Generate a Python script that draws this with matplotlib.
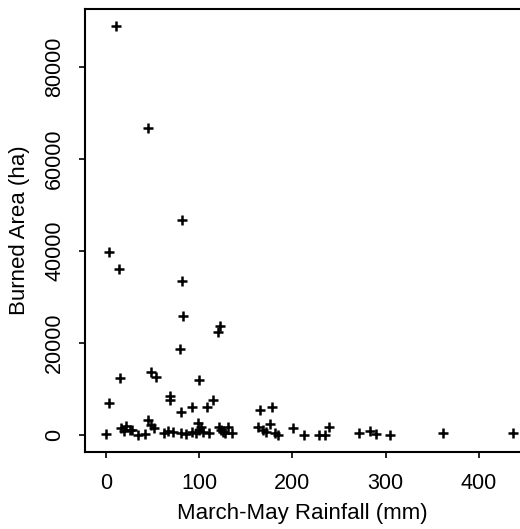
import matplotlib
matplotlib.use("Agg")
import matplotlib.pyplot as plt

plt.rcParams['font.family'] = ['Liberation Sans', 'DejaVu Sans']

rain = [11.5, 45.3, 82.2, 3.6, 14, 82, 83, 122, 120, 80, 15, 49, 53.6, 100,
        3.2, 68.6, 68.6, 81, 92, 108, 114.5, 165, 178.6,
        0, 16.8, 22, 25.7, 20, 28, 34.6, 41.8, 45.3, 49, 51.8,
        62, 67, 72, 81, 86, 92, 99, 102, 100, 104, 97, 111,
        121, 124, 128, 126, 131, 135, 163, 169, 172, 176, 181, 185,
        201, 213, 229, 235, 239, 271.5, 283.6, 290, 305, 361, 437]
area = [88900, 66600, 46700, 39650, 36000, 33400, 25800, 23700, 22400, 18600,
        12400, 13700, 12500, 11900, 6800, 8400, 7500, 5000, 6000, 6100, 7500,
        5300, 6100,
        100, 1400, 2000, 1000, 800, 1100, 0, 100, 3200, 2100, 1400,
        400, 900, 700, 300, 100, 500, 2500, 1700, 1000, 650, 300, 300,
        1700, 1000, 300, 600, 1700, 300, 1700, 1000, 650, 2300, 300, 0,
        1400, 0, 0, 0, 1700, 300, 800, 100, 0, 300, 300]

xticks = [0, 100, 200, 300, 400]
yticks = [0, 20000, 40000, 60000, 80000]

fig = plt.figure(figsize=(5.2, 5.29), dpi=100)
ax = fig.add_axes([0.163, 0.146, 0.837, 0.837])
ax.plot(rain, area, linestyle='none', marker='+', color='black',
        markersize=7, markeredgewidth=1.8)
ax.set_xlim(-22.5, 444)
ax.set_ylim(-3700, 92500)
ax.set_xticks(xticks)
ax.set_yticks(yticks)
ax.set_xticklabels([str(v) for v in xticks], fontsize=15.5)
ax.set_yticklabels([str(v) for v in yticks], fontsize=15.5, rotation=90, va='center')
ax.tick_params(direction='out', length=4, width=1.2, pad=10)
ax.tick_params(axis='x', pad=11)
ax.spines['right'].set_visible(False)
for s in ['left', 'bottom', 'top']:
    ax.spines[s].set_linewidth(1.5)
ax.set_xlabel('March-May Rainfall (mm)', fontsize=16, labelpad=7)
ax.set_ylabel('Burned Area (ha)', fontsize=16, labelpad=10)
fig.savefig('out.png', dpi=100)
